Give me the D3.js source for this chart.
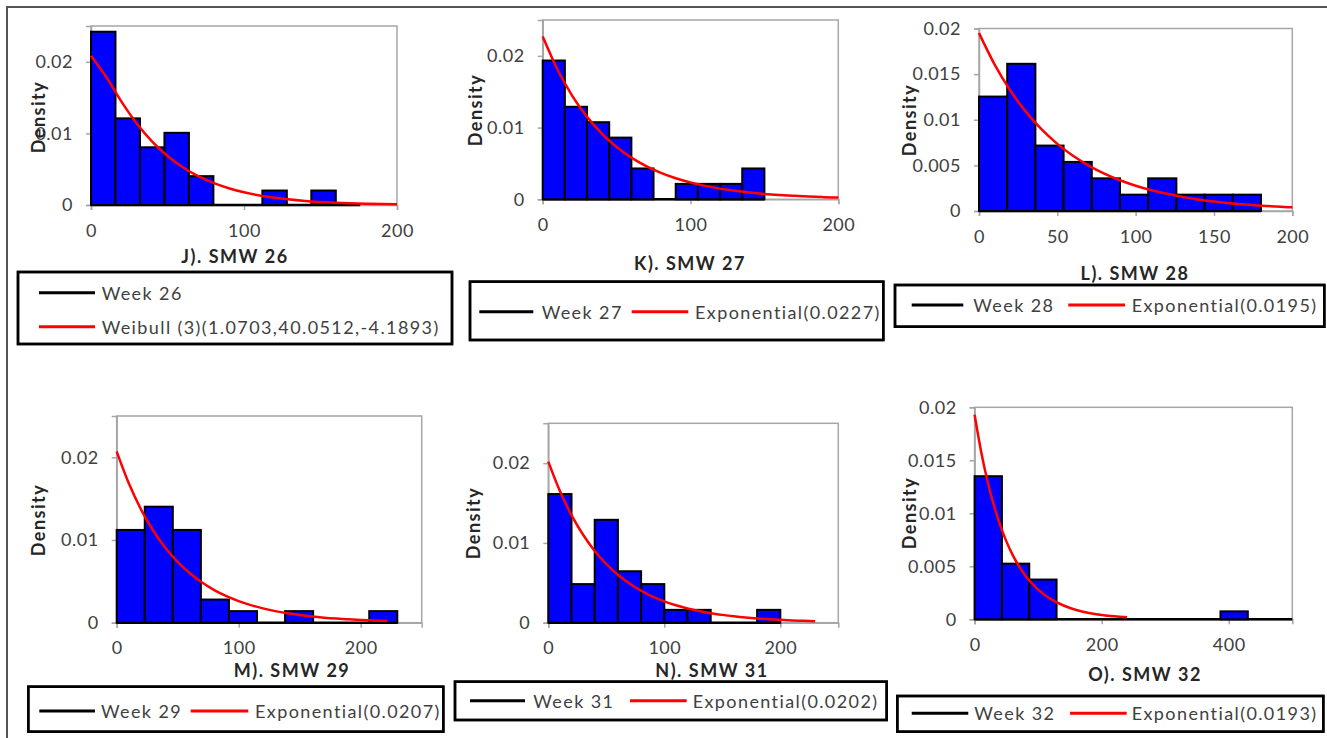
<!DOCTYPE html>
<html><head><meta charset="utf-8">
<script src="https://cdn.jsdelivr.net/npm/d3@7"></script>
<style>body{margin:0;background:#fff}svg{display:block}text{font-family:Lato,"Open Sans",sans-serif}</style>
</head><body>
<svg id="c" width="1327" height="738"></svg>
<script>
// ---------- DATA ----------
const panelIds = ["J","K","L","M","N","O"];
const titles = ["J).  SMW 26","K). SMW 27","L). SMW 28","M). SMW 29","N). SMW 31","O). SMW 32"];
const weekLabels = ["Week 26","Week 27","Week 28","Week 29","Week 31","Week 32"];
const fitLabels = ["Weibull (3)(1.0703,40.0512,-4.1893)","Exponential(0.0227)","Exponential(0.0195)","Exponential(0.0207)","Exponential(0.0202)","Exponential(0.0193)"];

const binWidths = [16, 15, 18, 23, 20, 43];
const densJ = [0.0242,0.0121,0.00806,0.01008,0.00403,0,0,0.00202,0,0.00202,0];
const densK = [0.01935,0.0129,0.01075,0.0086,0.0043,0,0.00215,0.00215,0.00215,0.0043];
const densL = [0.01254,0.01613,0.00717,0.00538,0.00358,0.00179,0.00358,0.00179,0.00179,0.00179];
const densM = [0.01122,0.01403,0.01122,0.0028,0.0014,0,0.0014,0,0,0.0014];
const densN = [0.01613,0.00484,0.0129,0.00645,0.00484,0.00161,0.00161,0,0,0.00161];
const densO = [0.0135,0.00525,0.00375,0,0,0,0,0,0,0.00075,0,0];

const curveXJ = [0,10,20,30,40,50,60,70,80,90,100,120,140,160,180,200];
const curveYJ = [0.02086,0.01787,0.01440,0.01136,0.00886,0.00685,0.00527,0.00403,0.00308,0.00234,0.00177,0.00101,0.00057,0.00032,0.00018,0.0001];
const curveXK = [0,10,20,30,40,50,60,70,80,90,100,110,120,130,140,150,160,170,180,190,200];
const curveYK = [0.0227,0.01809,0.01442,0.01149,0.00916,0.0073,0.00581,0.00463,0.00369,0.00294,0.00235,0.00187,0.00149,0.00119,0.00095,0.00075,0.0006,0.00048,0.00038,0.0003,0.00024];
const curveXL = [0,10,20,30,40,50,60,70,80,90,100,110,120,130,140,150,160,170,180,190,200];
const curveYL = [0.0195,0.01605,0.0132,0.01086,0.00894,0.00736,0.00605,0.00498,0.0041,0.00337,0.00277,0.00228,0.00188,0.00155,0.00127,0.00105,0.00086,0.00071,0.00058,0.00048,0.0004];
const curveXM = [0,10,20,30,40,50,60,70,80,90,100,110,120,130,140,150,160,170,180,190,200,210,222];
const curveYM = [0.0207,0.01683,0.01368,0.01112,0.00904,0.00735,0.00598,0.00486,0.00395,0.00321,0.00261,0.00212,0.00173,0.0014,0.00114,0.00093,0.00075,0.00061,0.0005,0.00041,0.00033,0.00027,0.00021];
const curveXN = [0,10,20,30,40,50,60,70,80,90,100,110,120,130,140,150,160,170,180,190,200,210,220,230];
const curveYN = [0.0202,0.0165,0.01349,0.01102,0.009,0.00736,0.00601,0.00491,0.00401,0.00328,0.00268,0.00219,0.00179,0.00146,0.00119,0.00098,0.0008,0.00065,0.00053,0.00044,0.00036,0.00029,0.00024,0.00019];
const curveXO = [0,10,20,30,40,50,60,70,80,90,100,120,140,160,180,200,220,240];
const curveYO = [0.0193,0.01591,0.01312,0.01082,0.00892,0.00735,0.00606,0.005,0.00412,0.0034,0.0028,0.0019,0.0013,0.00088,0.0006,0.00041,0.00028,0.00019];

const xTicksA = [0,100,200];
const xTicksL = [0,50,100,150,200];
const xTicksO = [0,200,400];
const yTicksA = [0,0.01,0.02];
const yTicksB = [0,0.005,0.01,0.015,0.02];

const densities = [densJ,densK,densL,densM,densN,densO];
const curvesX = [curveXJ,curveXK,curveXL,curveXM,curveXN,curveXO];
const curvesY = [curveYJ,curveYK,curveYL,curveYM,curveYN,curveYO];
const xTickSets = [xTicksA,xTicksA,xTicksL,xTicksA,xTicksA,xTicksO];
const yTickSets = [yTicksA,yTicksA,yTicksB,yTicksA,yTicksA,yTicksB];
const xMaxes = [200,200,200,250,250,500];
const yMaxes = [0.025,0.025,0.02,0.025,0.025,0.02];

// ---------- LAYOUT ----------
const layout = [
 {l:91,r:397,t:26,b:205, tx:235,ty:256, dx:38,dy:117,
  box:[18,272,452,344], rows:[{y:292.7,lx:[39,95],tx:101.7,c:"#000",txt:"w"},{y:326.7,lx:[39,95],tx:101.7,c:"#f00",txt:"f"}]},
 {l:542.7,r:838.3,t:20,b:199.3, tx:690,ty:263, dx:475,dy:110,
  box:[470,281.7,883.3,340], rows:[{y:311.7,lx:[479.3,533.3],tx:541.7,c:"#000",txt:"w"},{y:311.7,lx:[631.7,688.3],tx:695,c:"#f00",txt:"f"}]},
 {l:979,r:1292.3,t:28.5,b:211, tx:1135,ty:273, dx:909,dy:120,
  box:[895,285,1324.3,326.7], rows:[{y:305,lx:[911.7,963.3],tx:973.3,c:"#000",txt:"w"},{y:305,lx:[1068.3,1125],tx:1131.7,c:"#f00",txt:"f"}]},
 {l:116.7,r:421.7,t:416,b:622.7, tx:292,ty:670, dx:38,dy:520,
  box:[28.3,686.7,443.3,731.7], rows:[{y:711,lx:[39.3,95],tx:101,c:"#000",txt:"w"},{y:711,lx:[190.7,248.3],tx:255,c:"#f00",txt:"f"}]},
 {l:548.3,r:838.3,t:423.3,b:622.7, tx:712,ty:670, dx:473,dy:523,
  box:[455,681.7,886.7,720], rows:[{y:700.7,lx:[470,525],tx:533.3,c:"#000",txt:"w"},{y:700.7,lx:[630,686.7],tx:692.7,c:"#f00",txt:"f"}]},
 {l:974.6,r:1292.3,t:407.3,b:619.3, tx:1145,ty:674, dx:909,dy:513,
  box:[897.3,696,1323.3,731.7], rows:[{y:713.3,lx:[911.7,968.3],tx:974.3,c:"#000",txt:"w"},{y:713.3,lx:[1070,1126.7],tx:1131.7,c:"#f00",txt:"f"}]}
];

const svg = d3.select("#c");
// outer frame
svg.append("path").attr("d","M7,738 L7,7 L1327,7").attr("fill","none").attr("stroke","#555").attr("stroke-width",2);

const fmt = d3.format("~g");
panelIds.forEach((id,i)=>{
  const L = layout[i];
  const x = d3.scaleLinear().domain([0,xMaxes[i]]).range([L.l,L.r]);
  const y = d3.scaleLinear().domain([0,yMaxes[i]]).range([L.b,L.t]);
  const g = svg.append("g").attr("class","panel-"+id);

  // plot area border
  g.append("rect").attr("x",L.l).attr("y",L.t).attr("width",L.r-L.l).attr("height",L.b-L.t)
    .attr("fill","none").attr("stroke","#a6a6a6").attr("stroke-width",1.5);

  // axes
  const ya = d3.axisLeft(y).tickValues(yTickSets[i]).tickFormat(fmt).tickSize(5).tickPadding(13);
  const yg = g.append("g").attr("transform",`translate(${L.l},0)`).call(ya);
  const xa = d3.axisBottom(x).tickValues(xTickSets[i]).tickFormat(fmt).tickSize(5).tickPadding(14);
  const xg = g.append("g").attr("transform",`translate(0,${L.b})`).call(xa);
  [yg,xg].forEach(a=>{
    a.select(".domain").attr("stroke","#a6a6a6").attr("stroke-width",1.5);
    a.selectAll(".tick line").attr("stroke","#a6a6a6").attr("stroke-width",1.5);
    a.selectAll(".tick text").attr("font-size",18).attr("fill","#404040")
      .attr("font-family","Lato, sans-serif").attr("letter-spacing","0.5px");
  });

  // histogram
  const bw = binWidths[i];
  const bins = densities[i].map((d,k)=>({x0:k*bw,x1:(k+1)*bw,d}));
  const lastEdge = Math.min(bins.length*bw, xMaxes[i]);
  g.append("line").attr("x1",x(0)).attr("x2",x(lastEdge)).attr("y1",y(0)).attr("y2",y(0))
    .attr("stroke","#000").attr("stroke-width",2.5);
  g.selectAll("rect.bar").data(bins.filter(b=>b.d>0)).join("rect").attr("class","bar")
    .attr("x",b=>x(b.x0)).attr("width",b=>x(b.x1)-x(b.x0))
    .attr("y",b=>y(b.d)).attr("height",b=>y(0)-y(b.d))
    .attr("fill","#0000ff").attr("stroke","#000").attr("stroke-width",2);

  // fitted curve
  const pts = curvesX[i].map((v,k)=>[v,curvesY[i][k]]);
  g.append("path").datum(pts)
    .attr("d",d3.line().x(p=>x(p[0])).y(p=>y(p[1])).curve(d3.curveMonotoneX))
    .attr("fill","none").attr("stroke","#ff0000").attr("stroke-width",2.5);

  // title
  g.append("text").attr("x",L.tx).attr("y",L.ty).attr("text-anchor","middle").attr("dominant-baseline","central")
    .attr("font-size",18).attr("font-weight","bold").attr("letter-spacing","1.5px").attr("fill","#262626").text(titles[i]);
  // Density
  g.append("text").attr("transform",`translate(${L.dx},${L.dy}) rotate(-90)`).attr("text-anchor","middle")
    .attr("dominant-baseline","central").attr("font-size",18).attr("font-weight","bold")
    .attr("letter-spacing","1.5px").attr("fill","#262626").text("Density");

  // legend
  const [bx0,by0,bx1,by1] = L.box;
  g.append("rect").attr("x",bx0).attr("y",by0).attr("width",bx1-bx0).attr("height",by1-by0)
    .attr("fill","#fff").attr("stroke","#000").attr("stroke-width",2.5);
  L.rows.forEach(r=>{
    g.append("line").attr("x1",r.lx[0]).attr("x2",r.lx[1]).attr("y1",r.y).attr("y2",r.y)
      .attr("stroke",r.c).attr("stroke-width",3);
    g.append("text").attr("x",r.tx).attr("y",r.y).attr("dominant-baseline","central")
      .attr("font-size",18).attr("letter-spacing","1.4px").attr("fill","#404040")
      .text(r.txt==="w"?weekLabels[i]:fitLabels[i]);
  });
  // legend border drawn again on top so overflowing text is covered like the reference
  g.append("rect").attr("x",bx0).attr("y",by0).attr("width",bx1-bx0).attr("height",by1-by0)
    .attr("fill","none").attr("stroke","#000").attr("stroke-width",2.5);
});
</script>
</body></html>
